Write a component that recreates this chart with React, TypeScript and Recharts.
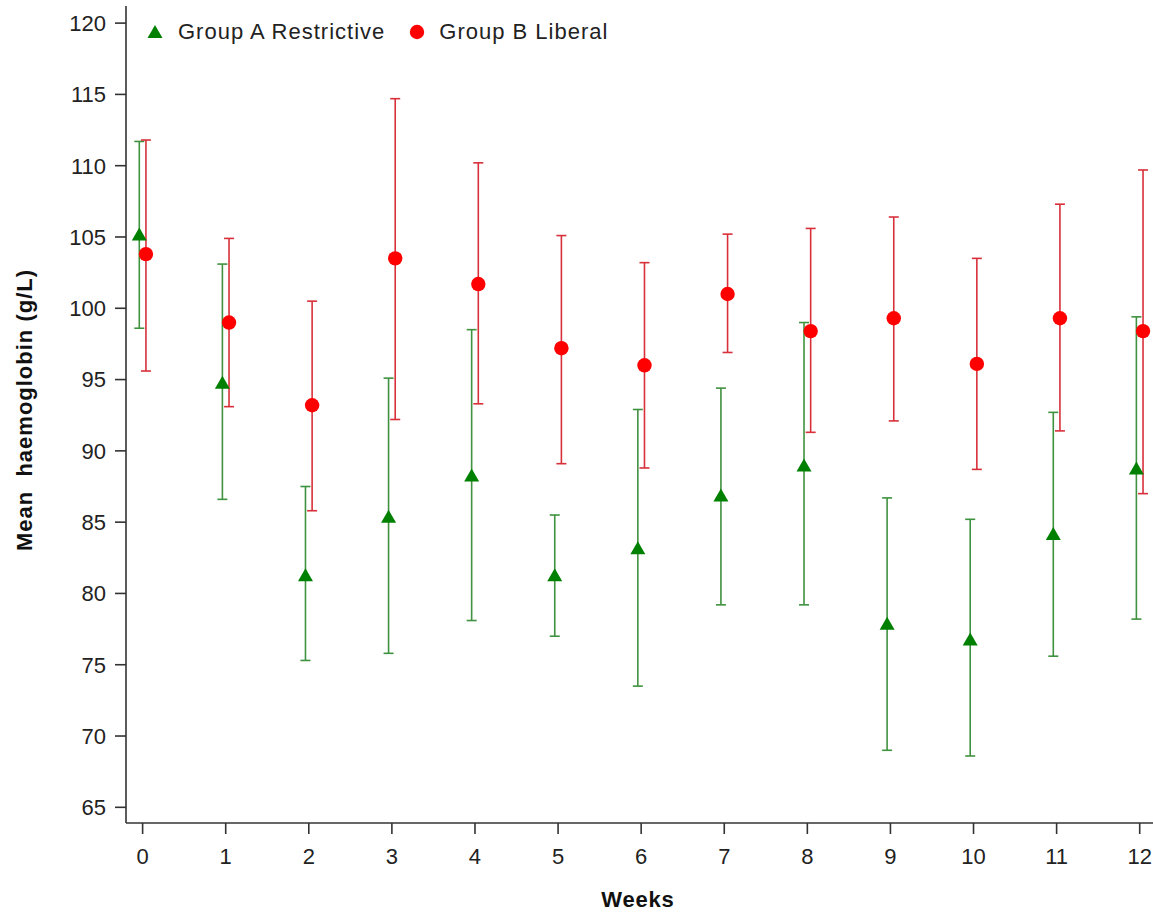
import React from 'react';
import { ScatterChart, Scatter, XAxis, YAxis, ErrorBar } from 'recharts';

// weeks since randomisation
const weeks = [0, 1, 2, 3, 4, 5, 6, 7, 8, 9, 10, 11, 12];

// Group A (restrictive) mean and CI bounds, g/L
const groupAMean = [105.1, 94.7, 81.2, 85.3, 88.2, 81.2, 83.1, 86.8, 88.9, 77.8, 76.7, 84.1, 88.7];
const groupALower = [98.6, 86.6, 75.3, 75.8, 78.1, 77.0, 73.5, 79.2, 79.2, 69.0, 68.6, 75.6, 78.2];
const groupAUpper = [111.7, 103.1, 87.5, 95.1, 98.5, 85.5, 92.9, 94.4, 99.0, 86.7, 85.2, 92.7, 99.4];

// Group B (liberal)
const groupBMean = [103.8, 99.0, 93.2, 103.5, 101.7, 97.2, 96.0, 101.0, 98.4, 99.3, 96.1, 99.3, 98.4];
const groupBLower = [95.6, 93.1, 85.8, 92.2, 93.3, 89.1, 88.8, 96.9, 91.3, 92.1, 88.7, 91.4, 87.0];
const groupBUpper = [111.8, 104.9, 100.5, 114.7, 110.2, 105.1, 103.2, 105.2, 105.6, 106.4, 103.5, 107.3, 109.7];

const yTicks = [65, 70, 75, 80, 85, 90, 95, 100, 105, 110, 115, 120];

const FONT = '"Liberation Sans", Arial, sans-serif';
const GREEN = '#008000';
const GREEN_BAR = '#3f923f';
const RED = '#ff0000';
const RED_BAR = '#d8303a';

// small dodge so the two groups don't sit on top of each other
const dodge = 0.04;

const buildSeries = (mean: number[], lower: number[], upper: number[], shift: number) =>
  weeks.map((w, i) => ({
    x: w + shift,
    y: mean[i],
    err: [mean[i] - lower[i], upper[i] - mean[i]],
  }));

const dataA = buildSeries(groupAMean, groupALower, groupAUpper, -dodge);
const dataB = buildSeries(groupBMean, groupBLower, groupBUpper, dodge);

const Triangle = (props: any) => {
  const { cx, cy } = props;
  if (cx == null || cy == null) return null;
  return (
    <polygon
      points={`${cx - 7.5},${cy + 5} ${cx + 7.5},${cy + 5} ${cx},${cy - 8}`}
      fill={GREEN}
    />
  );
};

const Dot = (props: any) => {
  const { cx, cy } = props;
  if (cx == null || cy == null) return null;
  return <circle cx={cx} cy={cy} r={7.2} fill={RED} />;
};

const ChartLegend = () => (
  <div
    style={{
      position: 'absolute',
      left: 147,
      top: 19,
      display: 'flex',
      alignItems: 'center',
      fontFamily: FONT,
      fontSize: 22,
      color: '#222',
      whiteSpace: 'nowrap',
    }}
  >
    <svg width={16} height={16} style={{ marginRight: 15 }}>
      <polygon points="0.5,14 15.5,14 8,1" fill={GREEN} />
    </svg>
    <span style={{ letterSpacing: 1 }}>Group A Restrictive</span>
    <svg width={16} height={16} style={{ marginLeft: 24, marginRight: 14 }}>
      <circle cx={8} cy={8} r={7.2} fill={RED} />
    </svg>
    <span style={{ letterSpacing: 1 }}>Group B Liberal</span>
  </div>
);

export default function App() {
  const tickStyle = { fontSize: 22, fill: '#222', fontFamily: FONT };
  return (
    <div style={{ position: 'absolute', left: 0, top: 0, width: 1153, height: 916, background: '#fff' }}>
      <ScatterChart width={1153} height={916} margin={{ top: 6, right: 0, bottom: 0, left: 0 }}>
        <XAxis
          type="number"
          dataKey="x"
          domain={[-0.2, 12.16]}
          allowDataOverflow
          ticks={weeks}
          interval={0}
          height={93}
          tickSize={11}
          tickMargin={14}
          tick={tickStyle}
          axisLine={{ stroke: '#333', strokeWidth: 1.6 }}
          tickLine={{ stroke: '#333', strokeWidth: 1.6 }}
        />
        <YAxis
          type="number"
          dataKey="y"
          domain={[63.9, 121.2]}
          allowDataOverflow
          ticks={yTicks}
          interval={0}
          width={126}
          tickSize={11}
          tickMargin={9}
          tick={tickStyle}
          axisLine={{ stroke: '#333', strokeWidth: 1.6 }}
          tickLine={{ stroke: '#333', strokeWidth: 1.6 }}
        />
        <Scatter name="Group A Restrictive" data={dataA} shape={<Triangle />} isAnimationActive={false}>
          <ErrorBar dataKey="err" direction="y" width={5} stroke={GREEN_BAR} strokeWidth={1.6} />
        </Scatter>
        <Scatter name="Group B Liberal" data={dataB} shape={<Dot />} isAnimationActive={false}>
          <ErrorBar dataKey="err" direction="y" width={5} stroke={RED_BAR} strokeWidth={1.6} />
        </Scatter>
      </ScatterChart>
      <ChartLegend />
      <div
        style={{
          position: 'absolute',
          left: 25,
          top: 410,
          transform: 'translate(-50%, -50%) rotate(-90deg)',
          whiteSpace: 'nowrap',
          fontFamily: FONT,
          fontWeight: 'bold',
          fontSize: 22,
          letterSpacing: 1,
          color: '#111',
        }}
      >
        Mean&nbsp; haemoglobin (g/L)
      </div>
      <div
        style={{
          position: 'absolute',
          left: 638,
          top: 900,
          transform: 'translate(-50%, -50%)',
          fontFamily: FONT,
          fontWeight: 'bold',
          fontSize: 22,
          letterSpacing: 0.8,
          color: '#111',
        }}
      >
        Weeks
      </div>
    </div>
  );
}
